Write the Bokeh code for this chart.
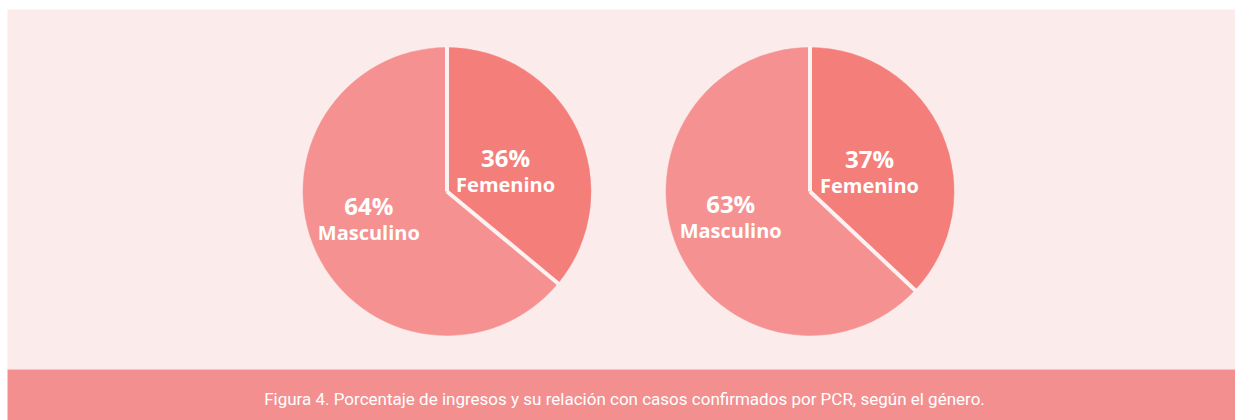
import math
from bokeh.plotting import figure
from bokeh.models import Range1d, ColumnDataSource
from bokeh.core.properties import value
from bokeh.embed import file_html
from bokeh.resources import INLINE

# ---- data ----
categories = ["Femenino", "Masculino"]
pie_ingresos = [36, 64]
pie_pcr = [37, 63]
caption = "Figura 4. Porcentaje de ingresos y su relación con casos confirmados por PCR, según el género."

# ---- style ----
W, H = 1235, 420
colors = ["#F47E7A", "#F59291"]
panel_color = "#FCEBEB"
band_color = "#F48F8F"
sep_color = "#FDF2F2"
R = 144
centers_x = [446.5, 809.5]
center_y = H - 191
label_k = [0.45, 0.6]

p = figure(width=W, height=H, x_range=Range1d(0, W), y_range=Range1d(0, H),
           output_backend="svg", toolbar_location=None, min_border=0)
p.axis.visible = False
p.grid.visible = False
p.outline_line_color = None
p.background_fill_color = "white"
p.border_fill_color = "white"

# background panel and caption band
p.quad(left=[7], right=[W], bottom=[H - 369], top=[H - 9], fill_color=panel_color, line_color=None)
p.quad(left=[7], right=[W], bottom=[0], top=[H - 369], fill_color=band_color, line_color=None)

for cx, vals in zip(centers_x, [pie_ingresos, pie_pcr]):
    total = sum(vals)
    starts, ends, xs, ys, pct, names = [], [], [], [], [], []
    acc = 0.0
    for i, (cat, v) in enumerate(zip(categories, vals)):
        a0 = math.pi / 2 - 2 * math.pi * acc / total
        acc += v
        a1 = math.pi / 2 - 2 * math.pi * acc / total
        starts.append(a0)
        ends.append(a1)
        mid = (a0 + a1) / 2
        r = label_k[i] * R
        xs.append(cx + r * math.cos(mid))
        ys.append(center_y + 0.75 * r * math.sin(mid))
        pct.append(f"{v}%")
        names.append(cat)
    src = ColumnDataSource(dict(start=starts, end=ends, color=colors,
                                x=xs, y=ys, pct=pct, name=names,
                                ypct=[y + 13.5 for y in ys], yname=[y - 13.5 for y in ys]))
    p.wedge(x=cx, y=center_y, radius=R, start_angle="start", end_angle="end",
            direction="clock", fill_color="color", line_color="color", line_width=0.5,
            source=src)
    # separators along slice boundaries
    sep_x0 = [cx] * len(starts)
    sep_y0 = [center_y] * len(starts)
    sep_x1 = [cx + (R + 1) * math.cos(a) for a in starts]
    sep_y1 = [center_y + (R + 1) * math.sin(a) for a in starts]
    p.segment(x0=sep_x0, y0=sep_y0, x1=sep_x1, y1=sep_y1, line_color=sep_color, line_width=4)
    p.text(x="x", y="ypct", text="pct", source=src, text_color="white",
           text_font=value("Open Sans"), text_font_style="bold", text_font_size="24px",
           text_align="center", text_baseline="middle")
    p.text(x="x", y="yname", text="name", source=src, text_color="white",
           text_font=value("Open Sans"), text_font_style="bold", text_font_size="20px",
           text_align="center", text_baseline="middle")

p.text(x=[624], y=[H - 398], text=[caption], text_color="white",
       text_font=value("Roboto"), text_font_size="17px",
       text_align="center", text_baseline="middle")

open("out.html", "w").write(file_html(p, INLINE))
